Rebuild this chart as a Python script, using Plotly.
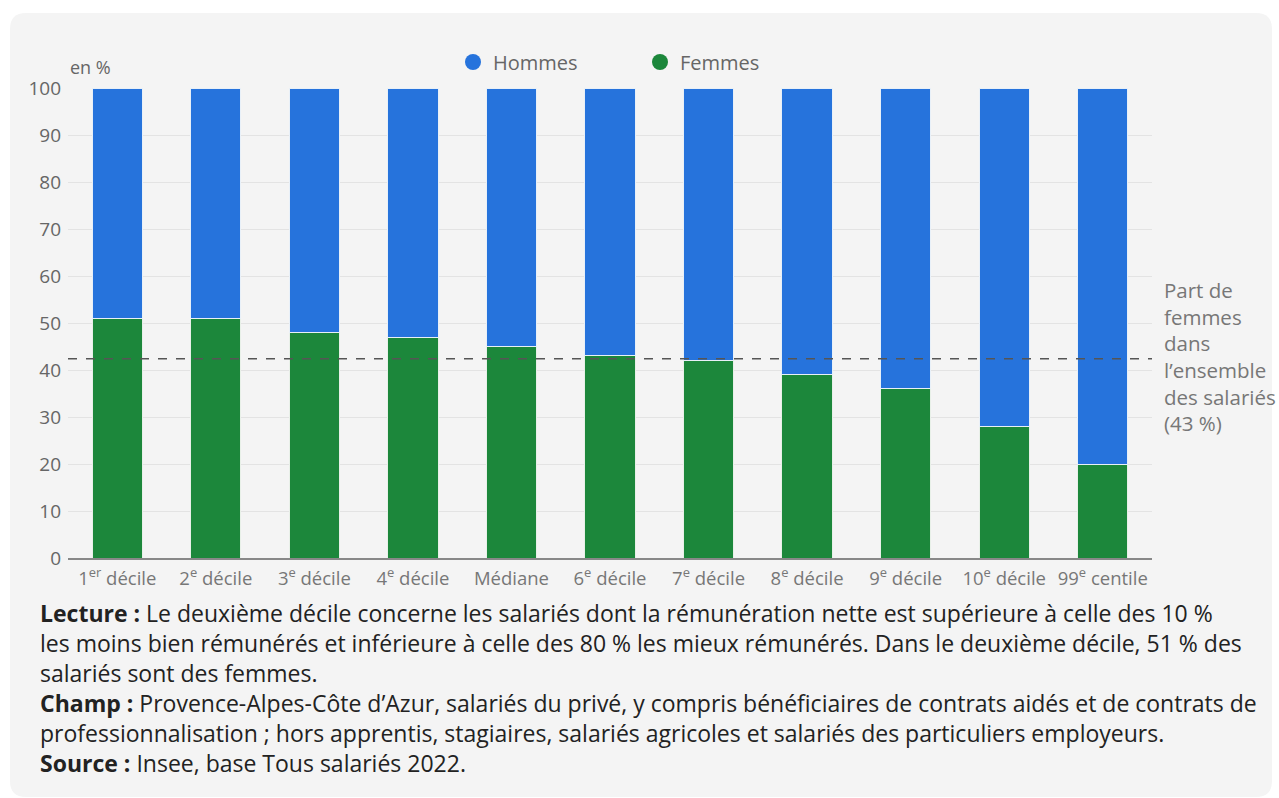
import plotly.graph_objects as go

categories = ["1<sup>er</sup> décile", "2<sup>e</sup> décile", "3<sup>e</sup> décile", "4<sup>e</sup> décile",
              "Médiane", "6<sup>e</sup> décile", "7<sup>e</sup> décile", "8<sup>e</sup> décile",
              "9<sup>e</sup> décile", "10<sup>e</sup> décile", "99<sup>e</sup> centile"]
femmes = [51, 51, 48, 47, 45, 43, 42, 39, 36, 28, 20]
hommes = [100 - v for v in femmes]
part_femmes = 42.4
y_ticks = [0, 10, 20, 30, 40, 50, 60, 70, 80, 90, 100]

BLUE = "#2673dc"
GREEN = "#1c873b"
BG = "#f4f4f4"
FONT = "Open Sans"

fig = go.Figure()
fig.add_trace(go.Bar(x=categories, y=femmes, name="Femmes", marker=dict(color=GREEN, line=dict(color="#e8f0e8", width=1)),
                     showlegend=False))
fig.add_trace(go.Bar(x=categories, y=hommes, name="Hommes", marker=dict(color=BLUE, line=dict(color="#e8f0f8", width=1)),
                     showlegend=False))
# legend entries with circle symbols
fig.add_trace(go.Scatter(x=[None], y=[None], mode="markers", name="Hommes",
                         marker=dict(color=BLUE, size=16, symbol="circle")))
fig.add_trace(go.Scatter(x=[None], y=[None], mode="markers", name="Femmes",
                         marker=dict(color=GREEN, size=16, symbol="circle")))

W, H = 1279, 798
L, R, T, B = 68, 1152, 88, 558
pw, ph = R - L, B - T

def px(x):
    return (x - L) / pw

def py(y):
    return (B - y) / ph

# card background with rounded corners (pixel offsets from plot bottom-left)
cx0, cx1, cy0, cy1, r = 10 - L, 1272 - L, B - 797, B - 13, 16
path = (f"M{cx0 + r},{cy1} L{cx1 - r},{cy1} Q{cx1},{cy1} {cx1},{cy1 - r} "
        f"L{cx1},{cy0 + r} Q{cx1},{cy0} {cx1 - r},{cy0} L{cx0 + r},{cy0} Q{cx0},{cy0} {cx0},{cy0 + r} "
        f"L{cx0},{cy1 - r} Q{cx0},{cy1} {cx0 + r},{cy1} Z")
fig.add_shape(type="path", xref="paper", yref="paper", xsizemode="pixel", ysizemode="pixel",
              xanchor=0, yanchor=0, path=path, fillcolor=BG, line=dict(width=0), layer="below")

# reference line
fig.add_shape(type="line", xref="paper", yref="y", x0=0, x1=1, y0=part_femmes, y1=part_femmes,
              line=dict(color="#555555", width=1.5, dash="dash"), layer="above")

fig.add_annotation(xref="paper", yref="paper", x=px(1162), y=py(274), xanchor="left", yanchor="top",
                   align="left", showarrow=False,
                   text="Part de<br>femmes<br>dans<br>l’ensemble<br>des salariés<br>(43 %)",
                   font=dict(family=FONT, size=20.5, color="#777777"))

fig.add_annotation(xref="paper", yref="paper", x=px(68), y=py(81), xanchor="left", yanchor="bottom",
                   showarrow=False, text="en %", font=dict(family=FONT, size=18, color="#666666"))

notes = ("<b>Lecture :</b> Le deuxième décile concerne les salariés dont la rémunération nette est supérieure à celle des 10 %<br>"
         "les moins bien rémunérés et inférieure à celle des 80 % les mieux rémunérés. Dans le deuxième décile, 51 % des<br>"
         "salariés sont des femmes.<br>"
         "<b>Champ :</b> Provence-Alpes-Côte d’Azur, salariés du privé, y compris bénéficiaires de contrats aidés et de contrats de<br>"
         "professionnalisation ; hors apprentis, stagiaires, salariés agricoles et salariés des particuliers employeurs.<br>"
         "<b>Source :</b> Insee, base Tous salariés 2022.")
fig.add_annotation(xref="paper", yref="paper", x=px(38), y=py(595), xanchor="left", yanchor="top",
                   align="left", showarrow=False, text=notes,
                   font=dict(family=FONT, size=23, color="#222222"))

fig.update_layout(
    width=W, height=H,
    barmode="stack", bargap=0.49,
    paper_bgcolor="white", plot_bgcolor=BG,
    margin=dict(l=L, r=W - R, t=T, b=H - B, pad=0),
    font=dict(family=FONT, size=18, color="#666666"),
    legend=dict(orientation="h", traceorder="normal", x=px(453), y=py(62), xanchor="left", yanchor="middle",
                font=dict(family=FONT, size=20, color="#666666"), bgcolor="rgba(0,0,0,0)",
                itemwidth=30, entrywidth=142, entrywidthmode="pixels"),
    xaxis=dict(showgrid=False, showline=True, linecolor="#888888", linewidth=1.5,
               tickfont=dict(family=FONT, size=18.5, color="#777777"), ticks="outside", ticklen=3,
               tickcolor="rgba(0,0,0,0)", fixedrange=True),
    yaxis=dict(range=[0, 100], tickvals=y_ticks, showgrid=True, gridcolor="#e3e3e3", gridwidth=1,
               zeroline=False, showline=False, ticks="", ticklabelstandoff=6,
               tickfont=dict(family=FONT, size=19, color="#666666")),
)

fig.write_html("out.html", config={"displayModeBar": False},
               post_script="document.body.style.margin='0';")
